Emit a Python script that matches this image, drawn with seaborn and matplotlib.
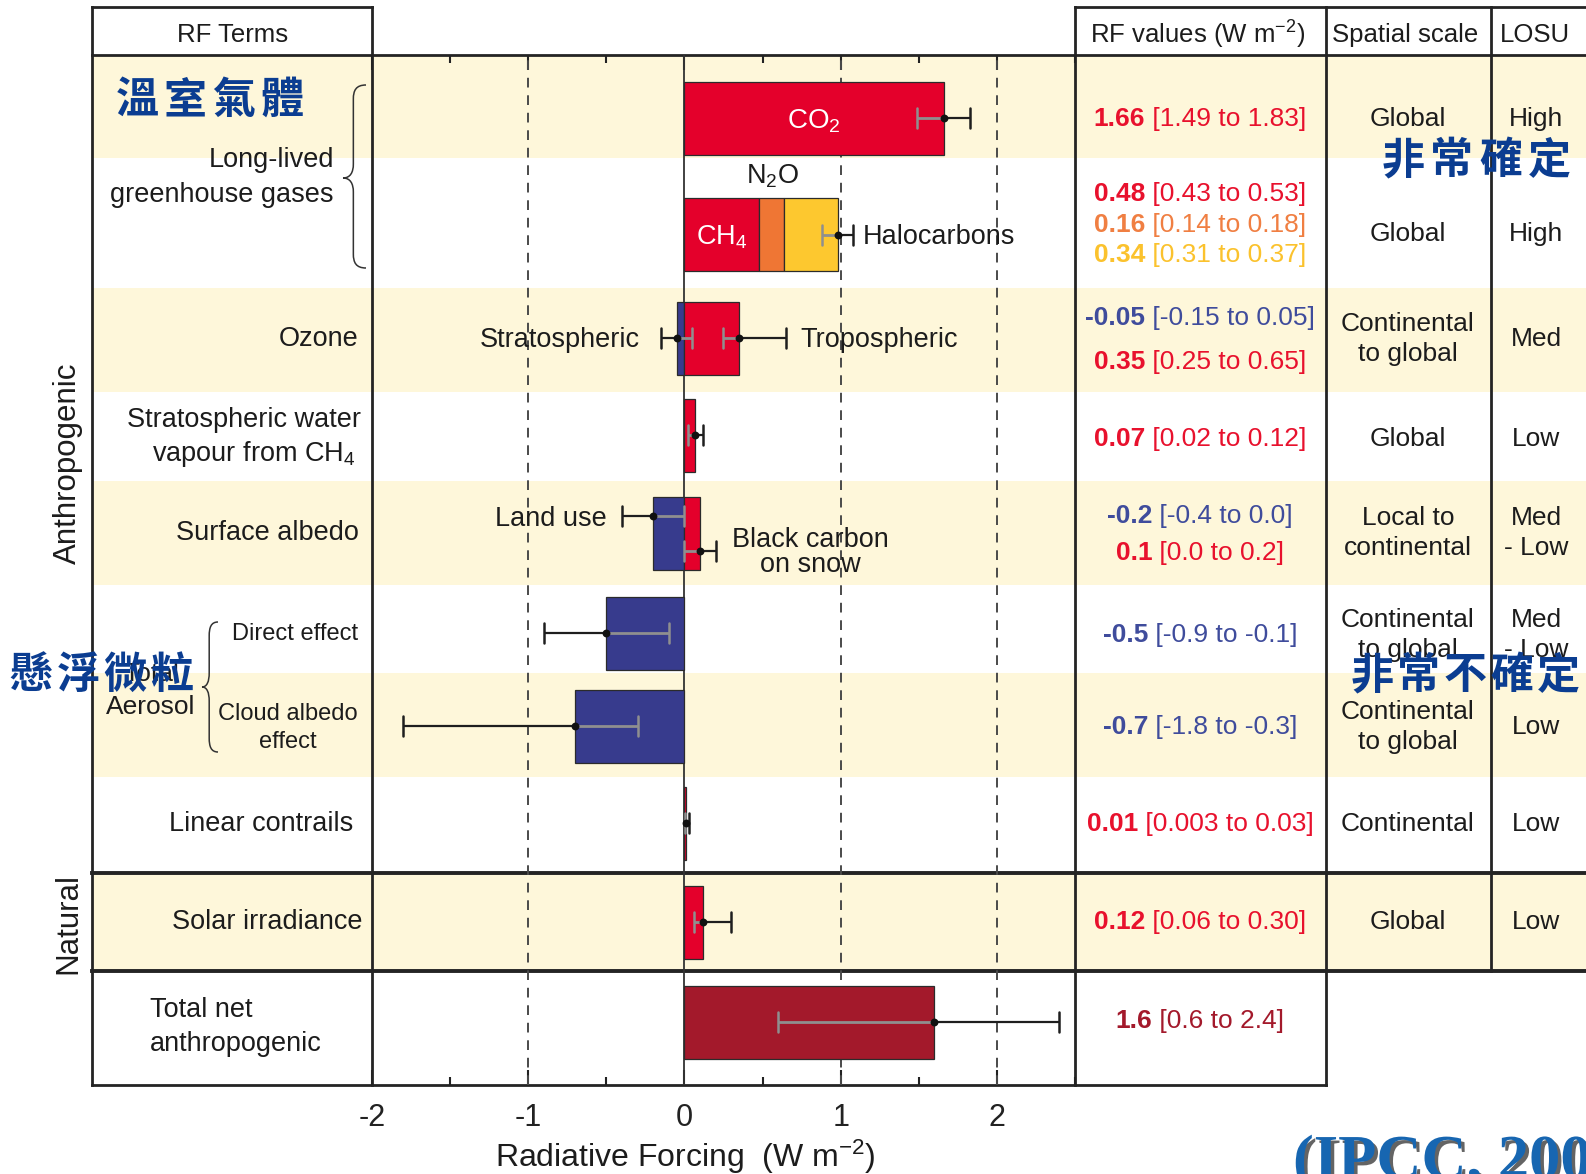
import matplotlib
matplotlib.use("Agg")
import matplotlib.pyplot as plt
import seaborn as sns
import numpy as np
import pandas as pd
from matplotlib.path import Path
from matplotlib.patches import PathPatch, Rectangle
from matplotlib.ticker import MultipleLocator
import matplotlib.patheffects as pe

# ---------------- DATA ----------------
bar_terms = ["CO2", "CH4", "N2O", "Halocarbons", "Stratospheric ozone", "Tropospheric ozone",
             "Stratospheric water vapour", "Land use", "Black carbon on snow",
             "Direct effect", "Cloud albedo effect", "Linear contrails",
             "Solar irradiance", "Total net anthropogenic"]
rf_best = [1.66, 0.48, 0.16, 0.34, -0.05, 0.35, 0.07, -0.2, 0.1, -0.5, -0.7, 0.01, 0.12, 1.6]
rf_low = [1.49, 0.43, 0.14, 0.31, -0.15, 0.25, 0.02, -0.4, 0.0, -0.9, -1.8, 0.003, 0.06, 0.6]
rf_high = [1.83, 0.53, 0.18, 0.37, 0.05, 0.65, 0.12, 0.0, 0.2, -0.1, -0.3, 0.03, 0.30, 2.4]
best_text = ["1.66", "0.48", "0.16", "0.34", "-0.05", "0.35", "0.07", "-0.2", "0.1",
             "-0.5", "-0.7", "0.01", "0.12", "1.6"]
range_text = ["[1.49 to 1.83]", "[0.43 to 0.53]", "[0.14 to 0.18]", "[0.31 to 0.37]",
              "[-0.15 to 0.05]", "[0.25 to 0.65]", "[0.02 to 0.12]", "[-0.4 to 0.0]",
              "[0.0 to 0.2]", "[-0.9 to -0.1]", "[-1.8 to -0.3]", "[0.003 to 0.03]",
              "[0.06 to 0.30]", "[0.6 to 2.4]"]
stack_terms = ["CH4", "N2O", "Halocarbons"]
stack_err = [0.88, 1.08]          # combined uncertainty drawn at end of the LLGHG stack

spatial_scale = ["Global", "Global", "Continental\nto global", "Global", "Local to\ncontinental",
                 "Continental\nto global", "Continental\nto global", "Continental", "Global"]
losu = ["High", "High", "Med", "Low", "Med\n- Low", "Med\n- Low", "Low", "Low", "Low"]
x_ticks = [-2, -1, 0, 1, 2]
x_tick_labels = ["-2", "-1", "0", "1", "2"]

# ---------------- STYLE / LAYOUT ----------------
RED = "#E4002B"; ORANGE = "#EF7634"; YELLOW = "#FDC82F"; BLUE = "#373B8D"; DRED = "#A3192B"
T_RED = "#E8112D"; T_OR = "#F07F42"; T_YEL = "#FBC22D"; T_BLUE = "#3F4C9C"; T_DRED = "#A3192B"
BAND = "#FEF7DA"; TXT = "#1c1c1c"; LINE = "#242424"; CJK = "#0B3D91"

bar_color = [RED, RED, ORANGE, YELLOW, BLUE, RED, RED, BLUE, RED, BLUE, BLUE, RED, RED, DRED]
txt_color = [T_RED, T_RED, T_OR, T_YEL, T_BLUE, T_RED, T_RED, T_BLUE, T_RED, T_BLUE, T_BLUE,
             T_RED, T_RED, T_DRED]
bar_row = [0, 1, 1, 1, 2, 2, 3, 4, 4, 5, 6, 7, 8, 9]
row_bar_y = [118.5, 234, 338, 435, 533, 633, 726, 823, 922, 1022]
err_y = [118, 235, 235, 235, 338, 338, 435, 516, 551, 633, 726, 823, 922, 1022]
val_y = [117, 192, 223, 253, 316, 360, 437, 514, 551, 633, 725, 822, 920, 1019]
row_tab_y = [117, 232, 337, 437, 531, 633, 725, 822, 920]
BAR_H = 73
DY = 2  # visual centring offset for text

sns.set_theme(style="white")
plt.rcParams["font.family"] = ["Liberation Sans", "DejaVu Sans"]
plt.rcParams["mathtext.fontset"] = "custom"
plt.rcParams["mathtext.rm"] = "Liberation Sans"
plt.rcParams["mathtext.it"] = "Liberation Sans:italic"
plt.rcParams["mathtext.bf"] = "Liberation Sans:bold"
plt.rcParams["mathtext.default"] = "regular"

W, H = 1586, 1174
fig = plt.figure(figsize=(W / 100, H / 100), dpi=100)
fig.patch.set_facecolor("white")

bg = fig.add_axes([0, 0, 1, 1], zorder=0)
bg.set_xlim(0, W); bg.set_ylim(H, 0); bg.axis("off")

# panel axes in pixel-y coordinates
X0, X1, Y0, Y1 = 372, 1075, 55, 1085
ax = fig.add_axes([X0 / W, 1 - Y1 / H, (X1 - X0) / W, (Y1 - Y0) / H], zorder=1)
ax.set_facecolor("none")
ax.set_xlim(-2, 2.5)
ax.set_ylim(Y1, Y0)
for s in ax.spines.values():
    s.set_visible(False)

# bands
for (ya, yb) in [(55, 158), (288, 392), (481, 585), (673, 777), (873, 971)]:
    bg.add_patch(Rectangle((92, ya), W - 92, yb - ya, facecolor=BAND, edgecolor="none", zorder=0))

# table lines
def hl(y, xa, xb, lw=2.0):
    bg.plot([xa, xb], [y, y], color=LINE, lw=lw, solid_capstyle="projecting", zorder=3)
def vl(x, ya, yb, lw=2.0):
    bg.plot([x, x], [ya, yb], color=LINE, lw=lw, solid_capstyle="projecting", zorder=3)

hl(7, 92, 372); hl(7, 1075, W + 5); hl(55, 92, W + 5)
vl(92, 7, 1085); vl(372, 7, 1085); vl(1075, 7, 1085); vl(1326, 7, 1085); vl(1491, 7, 971)
hl(873, 92, W + 5, 2.8); hl(971, 92, W + 5, 2.8); hl(1085, 92, 1326)

# ---------------- BARS ----------------
df = pd.DataFrame({"term": bar_terms, "best": rf_best, "low": rf_low, "high": rf_high,
                   "row": bar_row, "color": bar_color})
df["left"] = 0.0
cum = 0.0
for t in stack_terms:
    i = df.index[df.term == t][0]
    df.loc[i, "left"] = cum
    cum += df.loc[i, "best"]
df["y"] = [row_bar_y[r] for r in df.row]
df["start"] = np.minimum(df.left, df.left + df.best)
df["end"] = np.maximum(df.left, df.left + df.best)
spans = df.groupby("row").agg(a=("start", "min"), b=("end", "max"))

for x in [-1, 1, 2]:
    ax.axvline(x, color="#4a4a4a", lw=1.4, dashes=(5, 4), zorder=1)
ax.axvline(0, color="#333333", lw=1.3, zorder=1.5)

ax.barh(df.y, df.best, left=df.left, height=BAR_H, color=df.color,
        edgecolor="#2b2b2b", linewidth=0.9, zorder=2)

# error bars
err_rows = []
for i, r in df.iterrows():
    if r.term in stack_terms:
        continue
    err_rows.append((err_y[i], r.low, r.high, r.best, r.row))
stack_total = df[df.term.isin(stack_terms)].best.sum()
err_rows.append((235, stack_err[0], stack_err[1], stack_total, 1))
err_df = pd.DataFrame(err_rows, columns=["y", "lo", "hi", "mid", "row"])

DARK = "#1e1e1e"; GRAY = "#8f8f8f"; CAP = 10
for _, e in err_df.iterrows():
    a, b = spans.loc[e.row, "a"], spans.loc[e.row, "b"]
    ia, ib = max(e.lo, a), min(e.hi, b)
    if ib > ia:
        ax.plot([ia, ib], [e.y, e.y], color=GRAY, lw=2.0, solid_capstyle="butt", zorder=5)
    if e.lo < a:
        ax.plot([e.lo, min(e.hi, a)], [e.y, e.y], color=DARK, lw=1.6, solid_capstyle="butt", zorder=5)
    if e.hi > b:
        ax.plot([max(e.lo, b), e.hi], [e.y, e.y], color=DARK, lw=1.6, solid_capstyle="butt", zorder=5)
    for xc in (e.lo, e.hi):
        c = GRAY if a <= xc <= b else DARK
        ax.plot([xc, xc], [e.y - CAP, e.y + CAP], color=c, lw=1.8, zorder=5)
sns.scatterplot(data=err_df, x="mid", y="y", ax=ax, color="#111111", s=32, legend=False,
                linewidth=0, zorder=6)

ax.set_xticks(x_ticks)
ax.set_xticklabels(x_tick_labels)
ax.xaxis.set_minor_locator(MultipleLocator(0.5))
ax.tick_params(axis="x", which="major", direction="in", length=11, width=1.5, top=True,
               bottom=True, labelsize=22, pad=13, colors="#222222")
ax.tick_params(axis="x", which="minor", direction="in", length=6, width=1.5, top=True, bottom=True,
               colors="#222222")
ax.tick_params(axis="y", left=False, right=False, labelleft=False)
ax.set_yticks([])
ax.set_ylabel("")
ax.set_xlabel("Radiative Forcing  (W m$^{-2}$)", fontsize=23, color=TXT)
ax.xaxis.set_label_coords((685 - X0) / (X1 - X0), -(1138 - Y1) / (Y1 - Y0))
ax.xaxis.label.set_va("top")
ax.grid(False)

# ---------------- TEXT ----------------
def txt(x, y, s, size=19.5, ha="center", color=TXT, weight="normal", on=None, **kw):
    target = bg if on is None else on
    return target.text(x, y + DY, s, fontsize=size, ha=ha, va="center", color=color,
                       fontweight=weight, zorder=8, transform=bg.transData, **kw)

def lines(x, yc, s, size=19, ha="center", gap=30, color=TXT):
    parts = s.split("\n")
    n = len(parts)
    for k, p in enumerate(parts):
        txt(x, yc + (k - (n - 1) / 2) * gap, p, size=size, ha=ha, color=color)

# headers
txt(233, 33, "RF Terms", size=18.5)
txt(1198, 33, "RF values (W m$^{-2}$)", size=18.5)
txt(1405, 33, "Spatial scale", size=18.5)
txt(1535, 33, "LOSU", size=18.5)

# left column
txt(334, 158, "Long-lived", ha="right")
txt(334, 193, "greenhouse gases", ha="right")
txt(359, 337, "Ozone", ha="right")
txt(361, 418, "Stratospheric water", ha="right")
txt(356, 452, "vapour from CH$_4$", ha="right")
txt(359, 531, "Surface albedo", ha="right")
txt(358, 632, "Direct effect", ha="right", size=17)
txt(151, 672, "Total", size=19)
txt(151, 705, "Aerosol", size=19)
txt(288, 712, "Cloud albedo", size=17)
txt(288, 740, "effect", size=17)
txt(353, 822, "Linear contrails", ha="right")
txt(363, 920, "Solar irradiance", ha="right")
txt(150, 1008, "Total net", ha="left")
txt(150, 1042, "anthropogenic", ha="left")
txt(68, 461, "Anthropogenic", size=22.5, rotation=90)
txt(68, 922, "Natural", size=22.5, rotation=90)

# braces
def brace(x_tip, x_end, y0, y1, ym, r=14):
    xm = x_tip + (x_end - x_tip) * 0.45
    v = [(x_end, y0), (xm + (x_end - xm) * 0.2, y0), (xm, y0 + r * 0.4), (xm, y0 + r),
         (xm, ym - r),
         (xm, ym - r * 0.4), (xm - (xm - x_tip) * 0.3, ym), (x_tip, ym),
         (xm - (xm - x_tip) * 0.3, ym), (xm, ym + r * 0.4), (xm, ym + r),
         (xm, y1 - r),
         (xm, y1 - r * 0.4), (xm + (x_end - xm) * 0.2, y1), (x_end, y1)]
    c = [Path.MOVETO, Path.CURVE4, Path.CURVE4, Path.CURVE4, Path.LINETO,
         Path.CURVE4, Path.CURVE4, Path.CURVE4, Path.CURVE4, Path.CURVE4, Path.CURVE4,
         Path.LINETO, Path.CURVE4, Path.CURVE4, Path.CURVE4]
    bg.add_patch(PathPatch(Path(v, c), facecolor="none", edgecolor="#333333", lw=1.1, zorder=7))

brace(343, 366, 85, 268, 178)
brace(202, 218, 622, 752, 687)

# chart labels (drawn on the panel axes so they sit above the bars)
txt(814, 119, "CO$_2$", size=20, color="white", on=ax)
txt(772, 174, "N$_2$O", on=ax)
txt(722, 235, "CH$_4$", color="white", on=ax)
txt(863, 235, "Halocarbons", ha="left", on=ax)
txt(640, 338, "Stratospheric", ha="right", on=ax)
txt(800, 338, "Tropospheric", ha="left", on=ax)
txt(607, 517, "Land use", ha="right", on=ax)
txt(810, 538, "Black carbon", on=ax)
txt(810, 563, "on snow", on=ax)

# RF values column (bold best estimate + range), centred on column
renderer = fig.canvas.get_renderer()
for i in range(len(bar_terms)):
    t1 = bg.text(0, val_y[i] + DY, best_text[i], fontsize=19, fontweight="bold", ha="left",
                 va="center", color=txt_color[i], zorder=8)
    t2 = bg.annotate(" " + range_text[i], xy=(1, 0), xycoords=t1, ha="left", va="bottom",
                     fontsize=19, color=txt_color[i], zorder=8)
    w = t1.get_window_extent(renderer).width + t2.get_window_extent(renderer).width
    t1.set_x(1200 - w / 2)

# spatial scale / LOSU
for k in range(len(spatial_scale)):
    lines(1408, row_tab_y[k], spatial_scale[k])
    lines(1536, row_tab_y[k], losu[k])

# Chinese annotations
def cjk(x0, y, s, pitch, size=31):
    for k, ch in enumerate(s):
        bg.text(x0 + k * pitch, y, ch, fontsize=size, ha="center", va="center", color=CJK,
                fontweight="bold", family=["Noto Sans CJK TC"], zorder=10)

cjk(137, 100, "溫室氣體", 48.5)
cjk(1403, 160, "非常確定", 48.7)
cjk(31, 675, "懸浮微粒", 47)
cjk(1372, 675, "非常不確定", 46.7)

bg.text(1293, 1178, "(IPCC, 2007)", fontsize=45, fontweight="bold", family=["Liberation Serif"],
        color="#1766B1", ha="left", va="baseline", zorder=10,
        path_effects=[pe.withSimplePatchShadow(offset=(2.5, -2.5), shadow_rgbFace="#222222",
                                               alpha=0.7)])

fig.savefig("out.png", dpi=100)
